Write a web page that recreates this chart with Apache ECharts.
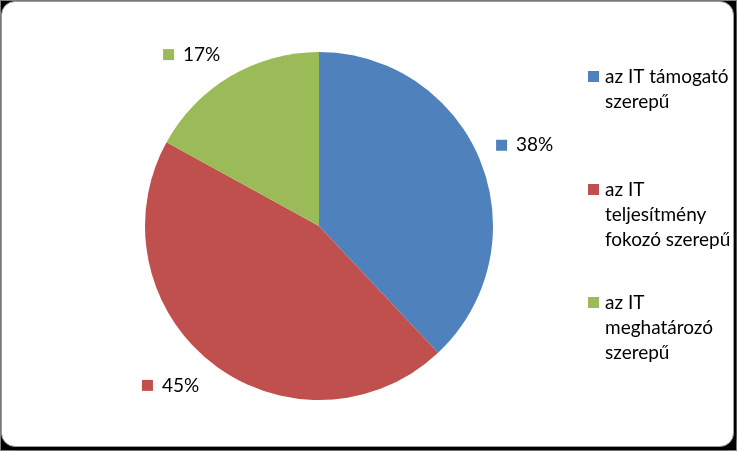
<!DOCTYPE html>
<html><head><meta charset="utf-8">
<script src="https://cdn.jsdelivr.net/npm/echarts@6/dist/echarts.min.js"></script>
<style>
html,body{margin:0;padding:0;background:#000;width:737px;height:451px;overflow:hidden}
#frame{position:absolute;left:0;top:0;width:735px;height:449px;border:1px solid #7f7f7f;background:#000}
#card{position:absolute;left:1px;top:1px;width:731px;height:444px;background:#fff;border-radius:14px;border:1px solid #9a9a9a;box-shadow:2px 2px 3px #000}
#chart{position:absolute;left:0;top:0;width:737px;height:451px}
</style></head><body>
<div id="frame"></div><div id="card"></div><div id="chart"></div>
<script>
const categories = ['az IT támogató szerepű', 'az IT teljesítmény fokozó szerepű', 'az IT meghatározó szerepű'];
const legendLines = [['az IT támogató', 'szerepű', ' '], ['az IT', 'teljesítmény', 'fokozó szerepű'], ['az IT', 'meghatározó', 'szerepű']];
const values = [38, 45, 17];
const colors = ['#4F81BD', '#C0504D', '#9BBB59'];

const FONT = 'Lato';
const rich = {
  g: { width: 9 },
  lg: { width: 6 },
  s: { width: 17, lineHeight: 25 },
  t: { fontSize: 19, fontFamily: FONT, color: '#000', lineHeight: 25 }
};
colors.forEach(function (c, i) {
  rich['m' + i] = { width: 11, height: 11, backgroundColor: c };
  rich['l' + i] = { width: 11, height: 11, backgroundColor: c };
});

const chart = echarts.init(document.getElementById('chart'), null, { renderer: 'canvas' });
chart.setOption({
  backgroundColor: 'transparent',
  animation: false,
  color: colors,
  legend: {
    orient: 'vertical',
    left: 583,
    top: 67,
    padding: 0,
    itemGap: 44,
    itemWidth: 0,
    itemHeight: 14,
    icon: 'none',
    selectedMode: false,
    data: categories,
    formatter: function (name) {
      const i = categories.indexOf(name);
      return legendLines[i].map(function (l, k) {
        return (k === 0 ? '{l' + i + '|}{lg|}' : '{s|}') + '{t|' + l + '}';
      }).join('\n');
    },
    textStyle: { rich: rich }
  },
  series: [{
    type: 'pie',
    center: [319, 226],
    radius: 174,
    startAngle: 90,
    clockwise: true,
    avoidLabelOverlap: false,
    silent: true,
    itemStyle: { borderWidth: 0 },
    emphasis: { disabled: true },
    label: {
      show: true,
      position: 'outside',
      formatter: function (p) {
        return '{m' + p.dataIndex + '|}{g|}{t|' + p.value + '%}';
      },
      rich: rich
    },
    labelLine: { show: false, length: 10, length2: 0 },
    labelLayout: function (params) {
      const off = [[1, -13], [-2, 14], [0, -13]];
      return { dx: off[params.dataIndex][0], dy: off[params.dataIndex][1] };
    },
    data: categories.map(function (c, i) { return { name: c, value: values[i] }; })
  }]
});
</script>
</body></html>
